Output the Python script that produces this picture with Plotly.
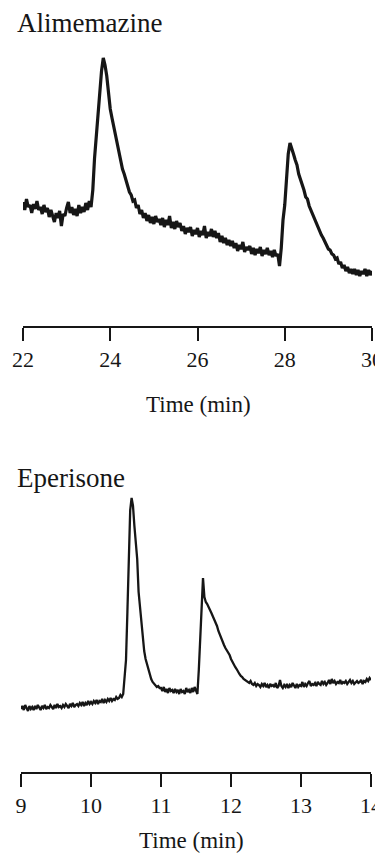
import numpy as np
import plotly.graph_objects as go

# ---------------- data ----------------
# Alimemazine: sampled every 0.04 min from 22 to 30 min (arbitrary detector units)
alim_t = np.round(np.linspace(22.0, 30.0, 201), 3)
alim_signal = [
    124, 116, 127, 119, 121, 113, 122, 117, 125, 116,
    119, 112, 121, 114, 118, 109, 116, 111, 104, 113,
    108, 115, 100, 112, 110, 118, 124, 113, 119, 111,
    117, 110, 121, 113, 119, 114, 123, 116, 125, 119,
    136, 168, 192, 214, 233, 255, 268, 261, 250, 233,
    217, 208, 199, 190, 181, 171, 166, 157, 152, 145,
    141, 134, 131, 125, 126, 118, 121, 112, 116, 108,
    113, 105, 111, 103, 109, 102, 110, 104, 107, 101,
    108, 99, 106, 101, 110, 98, 104, 97, 105, 99,
    103, 95, 100, 92, 98, 94, 99, 90, 96, 92,
    98, 89, 95, 91, 100, 88, 94, 90, 97, 89,
    95, 88, 93, 84, 90, 83, 88, 81, 86, 80,
    85, 78, 83, 75, 81, 77, 84, 74, 79, 76,
    80, 72, 78, 71, 77, 73, 79, 70, 76, 72,
    78, 71, 75, 69, 76, 70, 72, 60, 78, 106,
    121, 152, 172, 183, 176, 172, 166, 161, 152, 147,
    141, 136, 129, 127, 120, 116, 112, 106, 103, 98,
    95, 91, 88, 84, 82, 77, 76, 72, 71, 67,
    68, 62, 64, 58, 61, 55, 59, 53, 57, 52,
    57, 51, 56, 50, 55, 52, 57, 50, 56, 51,
    55,
]
alim_ticks = [22, 24, 26, 28, 30]

# Eperisone: sampled every 0.02 min from 9 to 14 min (arbitrary detector units)
eper_t = np.round(np.linspace(9.0, 14.0, 251), 3)
eper_signal = [
    63, 66, 62, 67, 64, 61, 66, 63, 65, 62,
    66, 63, 67, 64, 62, 66, 64, 67, 63, 65,
    64, 67, 65, 63, 67, 64, 68, 65, 66, 64,
    67, 65, 68, 66, 64, 68, 66, 69, 65, 67,
    68, 66, 69, 67, 70, 66, 69, 67, 71, 68,
    70, 68, 71, 69, 72, 68, 71, 70, 73, 69,
    72, 70, 73, 71, 74, 71, 73, 72, 75, 73,
    74, 77, 75, 78, 100, 112, 160, 228, 262, 274,
    266, 246, 228, 213, 180, 163, 148, 133, 121, 113,
    108, 102, 97, 93, 90, 88, 87, 85, 86, 84,
    84, 81, 85, 80, 83, 79, 84, 81, 82, 79,
    83, 80, 82, 78, 83, 80, 81, 78, 84, 80,
    82, 79, 84, 80, 85, 81, 78, 102, 138, 172,
    194, 175, 170, 168, 164, 162, 159, 156, 153, 150,
    146, 141, 137, 134, 130, 127, 124, 122, 119, 117,
    113, 110, 108, 105, 103, 100, 98, 96, 95, 93,
    92, 91, 90, 89, 91, 88, 87, 89, 86, 88,
    87, 85, 88, 86, 89, 85, 87, 84, 88, 86,
    87, 85, 89, 84, 86, 92, 86, 84, 87, 85,
    88, 84, 87, 85, 89, 86, 84, 88, 85, 87,
    86, 90, 85, 88, 86, 89, 91, 86, 88, 87,
    89, 86, 90, 88, 87, 91, 88, 90, 87, 89,
    92, 88, 93, 89, 91, 88, 90, 89, 92, 88,
    90, 89, 91, 88, 90, 92, 89, 91, 88, 90,
    91, 89, 90, 92, 88, 91, 90, 93, 91, 94,
    92,
]
eper_ticks = [9, 10, 11, 12, 13, 14]

# ---------------- figure ----------------
# the page body keeps an 8px margin, so the figure is drawn 8px in from the
# window corner; layout positions below are given in window pixels.
OFF = 8
W, H = 383 - OFF, 856 - OFF
SERIF = "Liberation Serif, Times New Roman, serif"
INK = "#161616"


def px_x(p):
    return (p - OFF) / W


def px_y(p):
    return 1 - (p - OFF) / H


fig = go.Figure()
fig.add_trace(go.Scatter(x=alim_t, y=alim_signal, mode="lines",
                         line=dict(color=INK, width=3.2),
                         xaxis="x", yaxis="y", showlegend=False,
                         hoverinfo="skip"))
fig.add_trace(go.Scatter(x=eper_t, y=eper_signal, mode="lines",
                         line=dict(color=INK, width=2.3),
                         xaxis="x2", yaxis="y2", showlegend=False,
                         hoverinfo="skip"))

xcommon = dict(showline=True, linecolor=INK, linewidth=1.8,
               ticks="outside", ticklen=13, tickwidth=1.8, tickcolor=INK,
               showgrid=False, zeroline=False, automargin=False,
               ticklabeloverflow="allow",
               tickfont=dict(family=SERIF, size=22, color=INK))
ycommon = dict(visible=False, showgrid=False, zeroline=False, automargin=False)

fig.update_layout(
    width=W, height=H, autosize=False,
    margin=dict(l=0, r=0, t=0, b=0, pad=0),
    paper_bgcolor="white", plot_bgcolor="white",
    xaxis=dict(domain=[px_x(23), px_x(372)], range=[22, 30],
               tickvals=alim_ticks, anchor="y", **xcommon),
    yaxis=dict(domain=[px_y(326), px_y(50)], range=[0, 276],
               anchor="x", **ycommon),
    xaxis2=dict(domain=[px_x(21), px_x(371)], range=[9, 14],
                tickvals=eper_ticks, anchor="y2", **xcommon),
    yaxis2=dict(domain=[px_y(772), px_y(490)], range=[0, 282],
                anchor="x2", **ycommon),
    annotations=[
        dict(text="Alimemazine", x=px_x(15), y=px_y(23), xref="paper", yref="paper",
             xanchor="left", yanchor="middle", showarrow=False,
             font=dict(family=SERIF, size=27, color=INK)),
        dict(text="Eperisone", x=px_x(15), y=px_y(478), xref="paper", yref="paper",
             xanchor="left", yanchor="middle", showarrow=False,
             font=dict(family=SERIF, size=27, color=INK)),
        dict(text="Time (min)", x=px_x(198), y=px_y(404), xref="paper", yref="paper",
             xanchor="center", yanchor="middle", showarrow=False,
             font=dict(family=SERIF, size=23, color=INK)),
        dict(text="Time (min)", x=px_x(191), y=px_y(840), xref="paper", yref="paper",
             xanchor="center", yanchor="middle", showarrow=False,
             font=dict(family=SERIF, size=23, color=INK)),
    ],
)

fig.write_html("out.html")
